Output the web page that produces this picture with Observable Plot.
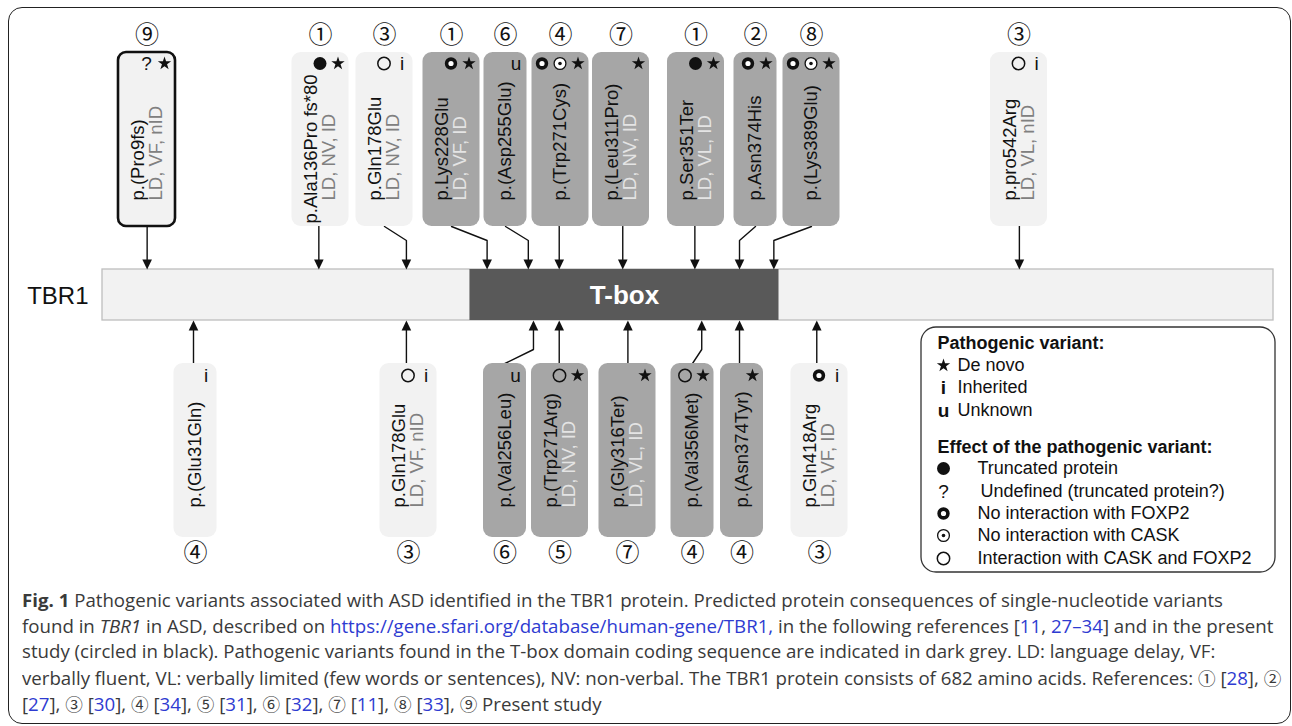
<!DOCTYPE html>
<html>
<head>
<meta charset="utf-8">
<script src="https://cdn.jsdelivr.net/npm/d3@7"></script>
<script src="https://cdn.jsdelivr.net/npm/@observablehq/plot@0.6"></script>
<style>
  html, body { margin: 0; padding: 0; background: #fff; }
  body { width: 1292px; height: 726px; overflow: hidden; position: relative; }
  #chart { position: absolute; left: 0; top: 0; }
  #frame { position: absolute; left: 8px; top: 7px; width: 1283px; height: 717px; box-sizing: border-box;
           border: 1.5px solid #222; border-radius: 14px; pointer-events: none; }
  #caption { position: absolute; left: 22px; top: 588px; font-family: "Open Sans", "Noto Sans", sans-serif;
             font-size: 18px; line-height: 25.5px; color: #3a3a3a; white-space: nowrap; transform-origin: 0 0; }
  #caption a { color: #2e3bd1; text-decoration: none; }
  #caption .c { font-family: "Noto Sans CJK JP", "DejaVu Sans", sans-serif; font-size: 17px; }
</style>
</head>
<body>
<div id="chart"></div>
<div id="caption">
  <div><span class="ln"><b>Fig. 1</b> Pathogenic variants associated with ASD identified in the TBR1 protein. Predicted protein consequences of single-nucleotide variants</span></div>
  <div><span class="ln">found in <i>TBR1</i> in ASD, described on <a>https://gene.sfari.org/database/human-gene/TBR1,</a> in the following references [<a>11</a>, <a>27–34</a>] and in the present</span></div>
  <div><span class="ln">study (circled in black). Pathogenic variants found in the T-box domain coding sequence are indicated in dark grey. LD: language delay, VF:</span></div>
  <div><span class="ln">verbally fluent, VL: verbally limited (few words or sentences), NV: non-verbal. The TBR1 protein consists of 682 amino acids. References: <span class="c">①</span> [<a>28</a>], <span class="c">②</span></span></div>
  <div><span class="ln">[<a>27</a>], <span class="c">③</span> [<a>30</a>], <span class="c">④</span> [<a>34</a>], <span class="c">⑤</span> [<a>31</a>], <span class="c">⑥</span> [<a>32</a>], <span class="c">⑦</span> [<a>11</a>], <span class="c">⑧</span> [<a>33</a>], <span class="c">⑨</span> Present study</span></div>
</div>
<div id="frame"></div>
<script>
// ---------------- data ----------------
const proteinLength = 682;                 // amino acids
const tBoxDomain = [214, 394];             // T-box span as drawn on the protein bar (aa)
const variantName = [
  "p.(Pro9fs)", "p.Ala136Pro fs*80", "p.Gln178Glu", "p.Lys228Glu", "p.(Asp255Glu)", "p.(Trp271Cys)",
  "p.(Leu311Pro)", "p.Ser351Ter", "p.Asn374His", "p.(Lys389Glu)", "p.pro542Arg",
  "p.(Glu31Gln)", "p.Gln178Glu", "p.(Val256Leu)", "p.(Trp271Arg)", "p.(Gly316Ter)",
  "p.(Val356Met)", "p.(Asn374Tyr)", "p.Gln418Arg"
];
const variantSide = [
  "top","top","top","top","top","top","top","top","top","top","top",
  "bottom","bottom","bottom","bottom","bottom","bottom","bottom","bottom"
];
const phenotype = [
  "LD, VF, nID", "LD, NV, ID", "LD, NV, ID", "LD, VF, ID", "", "", "LD, NV, ID", "LD, VL, ID", "", "", "LD, VL, nID",
  "", "LD, VF, nID", "", "LD, NV, ID", "LD, VL, ID", "", "", "LD, VF, ID"
];
const inheritance = [
  "de novo","de novo","inherited","de novo","unknown","de novo","de novo","de novo","de novo","de novo","inherited",
  "inherited","inherited","unknown","de novo","de novo","de novo","de novo","inherited"
];
const effect = [
  ["undefined"], ["truncated"], ["interaction"], ["noFOXP2"], [], ["noFOXP2","noCASK"], [], ["truncated"], ["noFOXP2"], ["noFOXP2","noCASK"], ["interaction"],
  [], ["interaction"], [], ["interaction"], [], ["interaction"], [], ["noFOXP2"]
];
const reference = [9, 1, 3, 1, 6, 4, 7, 1, 2, 8, 3, 4, 3, 6, 5, 7, 4, 4, 3];
// position where each arrow meets the protein bar (aa, as drawn)
const markedPosition = [26, 126, 177, 224, 248, 266, 303, 345, 371, 391, 534, 53, 177, 251, 266, 306, 349, 371, 416];
const presentStudy = ["p.(Pro9fs)"];
const circled = ["①","②","③","④","⑤","⑥","⑦","⑧","⑨"];
const legendInheritance = [["de novo", "De novo"], ["inherited", "Inherited"], ["unknown", "Unknown"]];
const legendEffect = [["truncated", "Truncated protein"], ["undefined", "Undefined (truncated protein?)"],
  ["noFOXP2", "No interaction with FOXP2"], ["noCASK", "No interaction with CASK"], ["interaction", "Interaction with CASK and FOXP2"]];

// ---------------- layout (annotation placement, pixels) ----------------
const xs = d3.scaleLinear([0, proteinLength], [102, 1273]);
const aa = px => xs.invert(px);
const bar = {top: 269, bottom: 320};
const lay = {
  top:    {boxTop: 52,  boxBottom: 226, kink: 240, refY: 35,  symY: 63,  textStart: 200, edge: 226, head: 269, base: 259},
  bottom: {boxTop: 363, boxBottom: 537, kink: 349, refY: 553, symY: 375, textStart: 507, edge: 363, head: 320, base: 330}
};
const slotPx = [146.5, 320, 384, 451, 505, 560, 620.5, 695.5, 755, 811, 1018.5,
                195, 408, 504.5, 559.5, 627, 692, 741.5, 819];

const rows = variantName.map((name, i) => {
  const L = lay[variantSide[i]];
  const twoLine = phenotype[i] !== "";
  const syms = [...effect[i], inheritance[i]];
  const w = (twoLine || syms.length >= 3) ? 57 : 43;
  const cx = slotPx[i];
  const inT = markedPosition[i] >= tBoxDomain[0] && markedPosition[i] <= tBoxDomain[1];
  const nameStart = name.length > 14 ? L.boxBottom - 3 : L.textStart;
  return {
    i, name, side: variantSide[i], pheno: phenotype[i], twoLine, syms, w, cx, inT,
    x1: aa(cx - w / 2), x2: aa(cx + w / 2), y1: L.boxTop, y2: L.boxBottom,
    fill: inT ? "#a6a6a6" : "#f2f2f2",
    nameX: aa(cx - (twoLine ? 9 : 0)), phenoX: aa(cx + 9), nameY: nameStart, phenoY: L.textStart,
    phenoFill: inT ? "#e4e4e4" : "#808080",
    refX: aa(cx), refY: L.refY, ref: circled[reference[i] - 1],
    pos: markedPosition[i], headY: L.head,
    present: presentStudy.includes(name)
  };
});

// connectors
const connectors = [];
rows.forEach(r => {
  const L = lay[r.side];
  const ax = xs(r.pos);
  const pts = Math.abs(ax - r.cx) <= 4
    ? [[ax, L.edge], [ax, L.base]]
    : [[r.cx, L.edge], [ax, L.kink], [ax, L.base]];
  pts.forEach(([px, py]) => connectors.push({id: r.i, x: aa(px), y: py}));
});

// symbols inside boxes
const symbols = [];
rows.forEach(r => {
  const n = r.syms.length;
  r.syms.forEach((kind, k) => {
    const px = r.cx + r.w / 2 - 11 - 18 * (n - 1 - k);
    symbols.push({kind, x: aa(px), y: lay[r.side].symY});
  });
});
// legend symbols
const legend = {x1: 921, x2: 1275, y1: 327, y2: 572};
const legendHeaders = [{t: "Pathogenic variant:", x: aa(937), y: 343}, {t: "Effect of the pathogenic variant:", x: aa(937), y: 447}];
const legendRows = [];
legendInheritance.forEach(([kind, label], k) => {
  const y = [365, 387, 410][k];
  symbols.push({kind, x: aa(943), y, legend: true});
  legendRows.push({label, x: aa(957), y});
});
legendEffect.forEach(([kind, label], k) => {
  const y = [468, 491, 513, 535, 558][k];
  symbols.push({kind, x: aa(943), y, legend: true});
  legendRows.push({label, x: aa(kind === "undefined" ? 980 : 977), y});
});
const letterOf = {inherited: "i", unknown: "u", undefined: "?"};

const headDown = {draw(ctx) { ctx.moveTo(0, 0); ctx.lineTo(-4.8, -10); ctx.lineTo(4.8, -10); ctx.closePath(); }};
const headUp = {draw(ctx) { ctx.moveTo(0, 0); ctx.lineTo(-4.8, 10); ctx.lineTo(4.8, 10); ctx.closePath(); }};

const font = "'Liberation Sans', Arial, sans-serif";
const S = kind => symbols.filter(d => d.kind === kind);
const letters = symbols.filter(d => letterOf[d.kind]);
const boldLetter = d => d.legend && d.kind !== "undefined";

const chart = Plot.plot({
  width: 1292, height: 580, margin: 0,
  x: {domain: [0, proteinLength], range: [102, 1273], axis: null},
  y: {type: "identity", axis: null},
  color: {type: "identity"},
  style: {fontFamily: font, background: "transparent", overflow: "visible"},
  marks: [
    // protein bar and T-box domain
    Plot.rect([{a: 0, b: proteinLength}], {x1: "a", x2: "b", y1: () => bar.top, y2: () => bar.bottom, fill: "#f2f2f2", stroke: "#bdbdbd", strokeWidth: 1.3}),
    Plot.rect([{a: tBoxDomain[0], b: tBoxDomain[1]}], {x1: "a", x2: "b", y1: () => bar.top, y2: () => bar.bottom, fill: "#595959"}),
    Plot.text([{t: "T-box", x: (tBoxDomain[0] + tBoxDomain[1]) / 2}], {x: "x", y: () => 295, text: "t", fill: "white", fontWeight: "bold", fontSize: 26, lineAnchor: "middle"}),
    Plot.text([{t: "TBR1", x: aa(88)}], {x: "x", y: () => 296, text: "t", fill: "#111", fontSize: 24, textAnchor: "end", lineAnchor: "middle"}),
    // connectors & arrowheads
    Plot.line(connectors, {x: "x", y: "y", z: "id", stroke: "#111", strokeWidth: 1.4}),
    Plot.dot(rows.filter(r => r.side === "top"), {x: "pos", y: "headY", r: 5, symbol: headDown, fill: "#111", stroke: null}),
    Plot.dot(rows.filter(r => r.side === "bottom"), {x: "pos", y: "headY", r: 5, symbol: headUp, fill: "#111", stroke: null}),
    // boxes
    Plot.rect(rows, {x1: "x1", x2: "x2", y1: "y1", y2: "y2", fill: "fill", rx: 9}),
    Plot.rect(rows.filter(r => r.present), {x1: "x1", x2: "x2", y1: "y1", y2: "y2", fill: "none", stroke: "#111", strokeWidth: 2.6, rx: 8}),
    // reference numbers
    Plot.text(rows, {x: "refX", y: "refY", text: "ref", fontSize: 24, fontFamily: "'Noto Sans CJK JP', 'DejaVu Sans', sans-serif", fill: "#111", lineAnchor: "middle"}),
    // variant names and phenotypes
    Plot.text(rows, {x: "nameX", y: "nameY", text: "name", rotate: -90, textAnchor: "start", lineAnchor: "middle", fontSize: 18.5, fill: "#111"}),
    Plot.text(rows.filter(r => r.twoLine), {x: "phenoX", y: "phenoY", text: "pheno", rotate: -90, textAnchor: "start", lineAnchor: "middle", fontSize: 18.5, fill: "phenoFill"}),
    // legend frame and texts
    Plot.rect([legend], {x1: d => aa(d.x1), x2: d => aa(d.x2), y1: "y1", y2: "y2", fill: "white", stroke: "#333", strokeWidth: 1.3, rx: 15}),
    Plot.text(legendHeaders, {x: "x", y: "y", text: "t", textAnchor: "start", lineAnchor: "middle", fontWeight: "bold", fontSize: 18, fill: "#111"}),
    Plot.text(legendRows, {x: "x", y: "y", text: "label", textAnchor: "start", lineAnchor: "middle", fontSize: 18, fill: "#111"}),
    // symbols
    Plot.dot(S("truncated"), {x: "x", y: "y", r: 6.5, fill: "#111", stroke: null}),
    Plot.dot(S("noFOXP2"), {x: "x", y: "y", r: 4.4, fill: "white", stroke: "#111", strokeWidth: 3.6}),
    Plot.dot(S("noCASK"), {x: "x", y: "y", r: 5.9, fill: "white", stroke: "#111", strokeWidth: 1.3}),
    Plot.dot(S("noCASK"), {x: "x", y: "y", r: 1.8, fill: "#111", stroke: null}),
    Plot.dot(S("interaction"), {x: "x", y: "y", r: 6.2, fill: "none", stroke: "#111", strokeWidth: 1.5}),
    Plot.dot(S("de novo"), {x: "x", y: "y", r: 4.2, symbol: "star", fill: "#111", stroke: null}),
    Plot.text(letters.filter(d => !boldLetter(d)), {x: "x", y: "y", text: d => letterOf[d.kind], fontSize: 19, lineAnchor: "middle", fill: "#111"}),
    Plot.text(letters.filter(boldLetter), {x: "x", y: "y", text: d => letterOf[d.kind], fontSize: 19, fontWeight: "bold", lineAnchor: "middle", fill: "#111"})
  ]
});
document.getElementById("chart").appendChild(chart);

// fit caption lines to the reference's line length
const cap = document.getElementById("caption");
const first = cap.querySelector(".ln");
const w1 = first.getBoundingClientRect().width;
cap.style.transform = `scaleX(${1201 / w1})`;
</script>
</body>
</html>
